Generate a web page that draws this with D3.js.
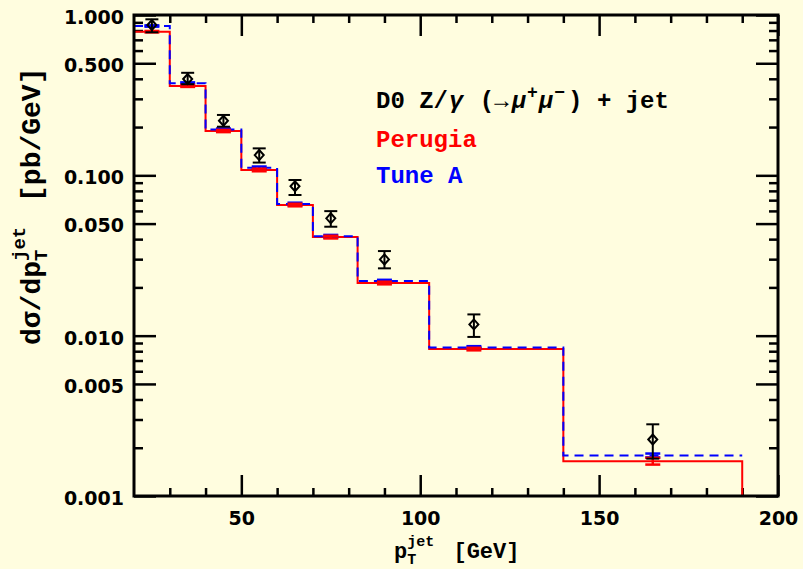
<!DOCTYPE html>
<html>
<head>
<meta charset="utf-8">
<style>
  body { margin: 0; background: #fffddf; }
  svg { display: block; }
  .tick text { font: bold 19px "DejaVu Sans"; fill: #000; }
  .tick line { stroke: #000; stroke-width: 2.5; }
  .lbl { font-family: "Liberation Mono", "DejaVu Sans Mono", monospace; font-weight: bold; }
</style>
<script src="https://d3js.org/d3.v7.min.js"></script>
</head>
<body>
<svg width="803" height="569"></svg>
<script>
// bin edges in pT (GeV)
var edges = [20, 30, 40, 50, 60, 70, 82.5, 102.5, 140, 190];
// MC predictions per bin (pb/GeV)
var perugia = [0.787, 0.361, 0.189, 0.108, 0.0653, 0.0412, 0.0213, 0.00825, 0.00165];
var tuneA = [0.854, 0.375, 0.193, 0.1115, 0.0663, 0.0417, 0.0219, 0.00845, 0.00179];
var perugiaErr = [0.008, 0.005, 0.003, 0.002, 0.0012, 0.0008, 0.0004, 0.00015, 0.00008];
var tuneAErr = [0.008, 0.005, 0.003, 0.002, 0.0012, 0.0008, 0.0004, 0.00015, 0.00005];
// D0 data points
var dataX = [25, 35, 45, 55, 65, 75, 90, 115, 165];
var d0 = [0.866, 0.399, 0.219, 0.1338, 0.0855, 0.0539, 0.0299, 0.01176, 0.00225];
var d0Hi = [0.940, 0.436, 0.238, 0.1473, 0.0935, 0.0598, 0.0337, 0.01357, 0.00280];
var d0Lo = [0.780, 0.370, 0.201, 0.1201, 0.0754, 0.0478, 0.0263, 0.00982, 0.00171];
// ticks
var xMajor = [50, 100, 150, 200];
var xMinor = [30, 40, 60, 70, 80, 90, 110, 120, 130, 140, 160, 170, 180, 190];
var yMajor = [1, 0.5, 0.1, 0.05, 0.01, 0.005, 0.001];
var yMinor = [0.9, 0.8, 0.7, 0.6, 0.4, 0.3, 0.2, 0.09, 0.08, 0.07, 0.06, 0.04, 0.03, 0.02,
              0.009, 0.008, 0.007, 0.006, 0.004, 0.003, 0.002];

var svg = d3.select("svg");
var x = d3.scaleLinear().domain([20, 200]).range([134, 778]);
var y = d3.scaleLog().domain([0.001, 1]).range([496, 15]);

// axes: ticks point inwards on all four sides
function ax(gen, tr, vals, size, labels) {
    var g = svg.append("g").attr("transform", tr)
        .call(gen.tickValues(vals).tickSize(size).tickFormat(labels || ""));
    g.select(".domain").remove();
    return g;
}
ax(d3.axisBottom(x).tickPadding(15.5), "translate(0,496)", xMajor, -21, d3.format("d"));
ax(d3.axisBottom(x), "translate(0,496)", xMinor, -8);
ax(d3.axisTop(x), "translate(0,15)", xMajor, -21);
ax(d3.axisTop(x), "translate(0,15)", xMinor, -8);
var ly = ax(d3.axisLeft(y).tickPadding(10), "translate(134,0)", yMajor, -22, d3.format(".3f"));
ly.selectAll("text").attr("dy", "0.44em");
ax(d3.axisLeft(y), "translate(134,0)", yMinor, -9);
ax(d3.axisRight(y), "translate(778,0)", yMajor, -22);
ax(d3.axisRight(y), "translate(778,0)", yMinor, -9);

// histograms
function steps(vals, drop) {
    var pts = vals.map(function (v, i) { return [edges[i], v]; });
    pts.push([edges[edges.length - 1], vals[vals.length - 1]]);
    if (drop) pts.push([edges[edges.length - 1], y.domain()[0]]);
    return d3.line().x(function (d) { return x(d[0]); })
        .y(function (d) { return y(d[1]); })
        .curve(d3.curveStepAfter)(pts);
}
svg.append("path").attr("d", steps(perugia, true))
    .attr("fill", "none").attr("stroke", "#ff0000").attr("stroke-width", 2);
svg.append("path").attr("d", steps(tuneA, false))
    .attr("fill", "none").attr("stroke", "#0000ff").attr("stroke-width", 2)
    .attr("stroke-dasharray", "9,6");

// small error bars: MC statistics and data
function errBar(g, cx, lo, hi, w, col, sw) {
    g.append("line").attr("x1", x(cx)).attr("x2", x(cx)).attr("y1", y(lo)).attr("y2", y(hi))
        .attr("stroke", col).attr("stroke-width", sw);
    [lo, hi].forEach(function (v) {
        g.append("line").attr("x1", x(cx) - w / 2).attr("x2", x(cx) + w / 2)
            .attr("y1", y(v)).attr("y2", y(v)).attr("stroke", col).attr("stroke-width", sw);
    });
}
var eg = svg.append("g");
dataX.forEach(function (cx, i) {
    errBar(eg, cx, tuneA[i] - tuneAErr[i], tuneA[i] + tuneAErr[i], 15, "#0000ff", 2.5);
    errBar(eg, cx, perugia[i] - perugiaErr[i], perugia[i] + perugiaErr[i], 15, "#ff0000", 2.5);
});
dataX.forEach(function (cx, i) {
    errBar(eg, cx, d0Lo[i], d0Hi[i], 13, "#000", 2);
    var px = x(cx), py = y(d0[i]);
    eg.append("path")
        .attr("d", "M" + (px - 4.5) + "," + py + "L" + px + "," + (py - 5) + "L" + (px + 4.5) + "," + py + "L" + px + "," + (py + 5) + "Z")
        .attr("fill", "none").attr("stroke", "#000").attr("stroke-width", 2);
});

// frame
svg.append("rect").attr("x", 134).attr("y", 15).attr("width", 644).attr("height", 481)
    .attr("fill", "none").attr("stroke", "#000").attr("stroke-width", 3);

// legend
var t1 = svg.append("text").attr("class", "lbl").attr("x", 376).attr("y", 108)
    .attr("font-size", 24).attr("fill", "#000");
t1.append("tspan").text("D0 Z/");
t1.append("tspan").attr("font-style", "italic").attr("dx", 1).text("γ");
t1.append("tspan").attr("dx", 2).text(" (→");
t1.append("tspan").attr("font-style", "italic").attr("dx", 3).text("μ");
t1.append("tspan").attr("font-size", 18).attr("dy", -10).attr("dx", 1).text("+");
t1.append("tspan").attr("font-style", "italic").attr("dy", 10).attr("dx", 1).text("μ");
t1.append("tspan").attr("font-size", 18).attr("dy", -10).attr("dx", 1).text("−");
t1.append("tspan").attr("dy", 10).attr("dx", 3).text(") + jet");
svg.append("text").attr("class", "lbl").attr("x", 376).attr("y", 147)
    .attr("font-size", 24).attr("fill", "#ff0000").text("Perugia");
svg.append("text").attr("class", "lbl").attr("x", 376).attr("y", 183)
    .attr("font-size", 24).attr("fill", "#0000ff").text("Tune A");

// axis titles
var xt = svg.append("text").attr("class", "lbl").attr("x", 394).attr("y", 558).attr("font-size", 22);
xt.append("tspan").text("p");
xt.append("tspan").attr("font-size", 15).attr("dy", 6).text("T");
xt.append("tspan").attr("font-size", 15).attr("dx", -9).attr("dy", -18).text("jet");
xt.append("tspan").attr("dy", 12).attr("dx", 6).text(" [GeV]");

var yt = svg.append("text").attr("class", "lbl").attr("transform", "translate(40,0) rotate(-90)")
    .attr("x", -345).attr("y", 0).attr("font-size", 28);
yt.append("tspan").text("dσ/dp");
yt.append("tspan").attr("font-size", 19).attr("dy", 7).text("T");
yt.append("tspan").attr("font-size", 19).attr("dx", -11.4).attr("dy", -22).text("jet");
yt.append("tspan").attr("dy", 15).attr("dx", 8).text(" [pb/GeV]");
</script>
</body>
</html>
